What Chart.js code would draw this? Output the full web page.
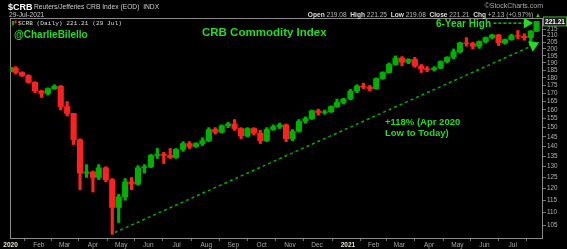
<!DOCTYPE html>
<html>
<head>
<meta charset="utf-8">
<script src="https://cdn.jsdelivr.net/npm/chart.js@4.4.1/dist/chart.umd.min.js"></script>
<style>
  html, body { margin: 0; padding: 0; background: #000; }
  #wrap { width: 567px; height: 249px; }
</style>
</head>
<body>
<div id="wrap"><canvas id="crbChart" width="567" height="249"></canvas></div>
<script>
// weekly candles, week ending dates (last one is the Thu 29 Jul 2021 close)
const weekEnd = [
  "2020-01-03", "2020-01-10", "2020-01-17", "2020-01-24", "2020-01-31",
  "2020-02-07", "2020-02-14", "2020-02-21", "2020-02-28",
  "2020-03-06", "2020-03-13", "2020-03-20", "2020-03-27",
  "2020-04-03", "2020-04-09", "2020-04-17", "2020-04-24",
  "2020-05-01", "2020-05-08", "2020-05-15", "2020-05-22", "2020-05-29",
  "2020-06-05", "2020-06-12", "2020-06-19", "2020-06-26",
  "2020-07-02", "2020-07-10", "2020-07-17", "2020-07-24", "2020-07-31",
  "2020-08-07", "2020-08-14", "2020-08-21", "2020-08-28",
  "2020-09-04", "2020-09-11", "2020-09-18", "2020-09-25",
  "2020-10-02", "2020-10-09", "2020-10-16", "2020-10-23", "2020-10-30",
  "2020-11-06", "2020-11-13", "2020-11-20", "2020-11-27",
  "2020-12-04", "2020-12-11", "2020-12-18", "2020-12-24", "2020-12-31",
  "2021-01-08", "2021-01-15", "2021-01-22", "2021-01-29",
  "2021-02-05", "2021-02-12", "2021-02-19", "2021-02-26",
  "2021-03-05", "2021-03-12", "2021-03-19", "2021-03-26",
  "2021-04-01", "2021-04-09", "2021-04-16", "2021-04-23", "2021-04-30",
  "2021-05-07", "2021-05-14", "2021-05-21", "2021-05-28",
  "2021-06-04", "2021-06-11", "2021-06-18", "2021-06-25",
  "2021-07-02", "2021-07-09", "2021-07-16", "2021-07-23", "2021-07-29",
];
const firstOpen = 184.5;
const weekHigh = [
  187, 187.5, 184, 182, 177.5, 172, 173.5, 175.5, 175,
  165, 158, 144, 131, 128, 131, 130, 124.5,
  117.5, 124.5, 125, 130.5, 131, 136, 139, 137, 139,
  139, 142.5, 142.5, 142, 144.5, 150, 150, 151.5, 153,
  154.5, 150, 150, 150, 148.5, 150, 151.5, 152.5, 152,
  149, 154.5, 156, 160, 160.5, 160, 162.5, 166.5, 167,
  172.5, 175.5, 176.5, 175, 180, 184, 190, 195,
  194.5, 193, 194, 189, 187.5, 187.5, 191.5, 194.5, 200,
  205, 208.5, 205, 206, 209, 211, 211, 207.5,
  211, 214, 211.5, 214, 221.25,
];
const weekLow = [
  184, 182.5, 180.8, 176.5, 170.5, 167.5, 169, 172.5, 160,
  156.5, 141, 119.5, 125, 118.5, 124, 123, 101.5,
  106, 115, 119.5, 121.5, 127, 129.5, 134, 131.5, 134,
  134, 137.5, 139, 139.5, 140.5, 142.5, 146.5, 147, 150,
  148.5, 144, 145, 146, 141.5, 142.5, 148.5, 149.5, 142.5,
  143, 147.5, 152.5, 154.5, 157, 157.5, 158.5, 161.5, 163.5,
  166, 170.5, 173, 171.5, 172.5, 179, 183, 188.5,
  188, 189.5, 187, 183.5, 184, 184.5, 186, 190, 193,
  197, 202, 200, 200.5, 204.5, 207.5, 202.5, 203.5,
  206.5, 207.5, 206.5, 202.5, 213,
];
const weekClose = [
  186.5, 183.5, 181.5, 177, 171.5, 170, 173, 174.5, 162,
  158, 143.5, 127, 127.5, 125, 129.5, 124, 112,
  116.5, 123, 122, 129.5, 130, 135.5, 136, 135.5, 134.5,
  138.5, 141.5, 140, 141.5, 143, 149, 147.5, 151, 152,
  149.5, 145.5, 149.5, 147, 143, 149, 150.5, 151.5, 144,
  148, 153.5, 155, 159.5, 158.5, 159, 162, 164.5, 166.5,
  171.5, 174.5, 174, 173, 179.5, 183.5, 189, 193.5,
  190.5, 192.5, 188, 186, 185.5, 186.5, 191, 194, 198,
  204.5, 204, 202, 205.5, 208.5, 210.5, 204.5, 207,
  210, 209.5, 208.5, 213.5, 221.21,
];
const lastClose = 221.21;

const priceTicks = [105, 110, 115, 120, 125, 130, 135, 140, 145, 150, 155, 160,
  165, 170, 175, 180, 185, 190, 195, 200, 205, 210, 215];
const monthTickDates = [
  "2020-01-02", "2020-02-03", "2020-03-02", "2020-04-01", "2020-05-01", "2020-06-01",
  "2020-07-01", "2020-08-03", "2020-09-01", "2020-10-01", "2020-11-02", "2020-12-01",
  "2021-01-04", "2021-02-01", "2021-03-01", "2021-04-01", "2021-05-03", "2021-06-01",
  "2021-07-01",
];
const monthTickLabels = ["2020", "Feb", "Mar", "Apr", "May", "Jun", "Jul", "Aug", "Sep",
  "Oct", "Nov", "Dec", "2021", "Feb", "Mar", "Apr", "May", "Jun", "Jul"];

// trend line from the April 2020 low, and the "6-Year High" arrow
const trendDates = ["2020-04-24", "2021-07-23"];
const trendValues = [102.2, 202.8];
const highArrowDates = ["2021-06-10", "2021-07-16"];
const highArrowValues = [219.9, 219.9];

// x axis counts weekdays since 1 Jan 2020
const DAY = 86400000;
const startUtc = Date.UTC(2020, 0, 1);
const toUtc = (iso) => {
  const [y, m, d] = iso.split("-").map(Number);
  return Date.UTC(y, m - 1, d);
};
const weekdayIndex = (iso) => {
  const t = toUtc(iso);
  let n = 0;
  for (let u = startUtc; u < t; u += DAY) {
    const wd = new Date(u).getUTCDay();
    if (wd !== 0 && wd !== 6) n++;
  }
  return n;
};

const firstDayIdx = weekdayIndex("2020-01-02");
const weekX = weekEnd.map((d) => {
  const end = weekdayIndex(d);
  const dow = new Date(toUtc(d)).getUTCDay();
  const start = Math.max(end - (dow - 1), firstDayIdx);
  return (start + end) / 2;
});
const weekOpen = weekClose.map((c, i) => (i === 0 ? firstOpen : weekClose[i - 1]));

const upColor = "#00b000";
const downColor = "#ff2020";
const candleColors = weekClose.map((c, i) => (c >= weekOpen[i] ? upColor : downColor));

const noteGreen = "#22dd22";
const font = (size, bold) => `${bold ? "bold " : ""}${size}px "Liberation Sans", Arial, sans-serif`;

const drawText = (c, text, x, y, f, color, align = "left") => {
  c.font = f;
  c.fillStyle = color;
  c.textAlign = align;
  c.textBaseline = "alphabetic";
  c.fillText(text, x, y);
};

const framePlugin = {
  id: "frame",
  beforeDatasetsDraw(chart) {
    const c = chart.ctx;
    const { left, top, right, bottom } = chart.chartArea;
    c.save();
    c.strokeStyle = "#8a8a8a";
    c.lineWidth = 1;
    c.strokeRect(left + 0.5, top + 0.5, right - left - 1, bottom - top - 1);
    c.restore();
  },
  afterDraw(chart) {
    const c = chart.ctx;
    const yScale = chart.scales.y;
    c.save();

    // header
    drawText(c, "$CRB", 8, 9.5, font(9, true), "#ffffff");
    drawText(c, "Reuters/Jefferies CRB Index (EOD)  INDX", 34, 8.5, font(6.7), "#cccccc");
    drawText(c, "29-Jul-2021", 9, 16.5, font(6.7), "#cccccc");
    drawText(c, "\u00a9StockCharts.com", 543, 8.3, font(7), "#aaaaaa", "right");

    const parts = [
      ["Open ", true], ["219.08  ", false], ["High ", true], ["221.25  ", false],
      ["Low ", true], ["219.08  ", false], ["Close ", true], ["221.21  ", false],
      ["Chg ", true], ["+2.13 (+0.97%) ", false],
    ];
    const hdrSize = 6.6;
    let total = 0;
    parts.forEach(([t, b]) => { c.font = font(hdrSize, b); total += c.measureText(t).width; });
    c.font = font(6);
    total += c.measureText("\u25b2").width;
    let px = 541 - total;
    parts.forEach(([t, b]) => {
      drawText(c, t, px, 16.5, font(hdrSize, b), b ? "#dddddd" : "#bbbbbb");
      c.font = font(hdrSize, b);
      px += c.measureText(t).width;
    });
    drawText(c, "\u25b2", px, 16.5, font(6), noteGreen);

    // legend line inside the frame
    c.fillStyle = upColor;
    c.fillRect(12, 21, 2, 4);
    c.fillStyle = downColor;
    c.fillRect(14.5, 20.5, 2, 3);
    drawText(c, "$CRB (Daily) 221.21 (29 Jul)", 18, 25, '6.2px "Liberation Mono", monospace', "#dddddd");

    // notes
    drawText(c, "@CharlieBilello", 14, 38, font(10, true), noteGreen);
    drawText(c, "CRB Commodity Index", 202, 36, font(11.5, true), noteGreen);
    drawText(c, "6-Year High", 491, 26.5, font(10, true), noteGreen, "right");
    drawText(c, "+118% (Apr 2020", 385, 124.5, font(9.5, true), noteGreen);
    drawText(c, "Low to Today)", 385, 136, font(9.5, true), noteGreen);

    // last price box on the right axis
    const ly = yScale.getPixelForValue(lastClose);
    c.fillStyle = "#1c1c1c";
    c.fillRect(543.5, ly - 4.5, 23, 9);
    c.strokeStyle = "#44aa44";
    c.lineWidth = 1;
    c.strokeRect(543.5, ly - 4.5, 23, 9);
    drawText(c, lastClose.toFixed(2), 555, ly + 2.5, font(6.5, true), "#ffffff", "center");

    c.restore();
  },
};

const ctx = document.getElementById("crbChart");

new Chart(ctx.getContext("2d"), {
  type: "bar",
  data: {
    datasets: [
      {
        label: "trend",
        type: "line",
        data: trendDates.map((d, i) => ({ x: weekdayIndex(d), y: trendValues[i] })),
        borderColor: "#00b000",
        borderWidth: 1.5,
        borderDash: [3, 3],
        pointRadius: [0, 5],
        pointStyle: "triangle",
        pointRotation: 66,
        pointBackgroundColor: noteGreen,
        pointBorderColor: noteGreen,
        order: 0,
      },
      {
        label: "high",
        type: "line",
        data: highArrowDates.map((d, i) => ({ x: weekdayIndex(d), y: highArrowValues[i] })),
        borderColor: noteGreen,
        borderWidth: 1.2,
        borderDash: [3, 2],
        pointRadius: [0, 5],
        pointStyle: "triangle",
        pointRotation: 90,
        pointBackgroundColor: noteGreen,
        pointBorderColor: noteGreen,
        order: 0,
      },
      {
        label: "body",
        data: weekX.map((x, i) => ({ x, y: [weekOpen[i], weekClose[i]] })),
        backgroundColor: candleColors,
        barThickness: 5.5,
        grouped: false,
        order: 1,
      },
      {
        label: "wick",
        data: weekX.map((x, i) => ({ x, y: [weekLow[i], weekHigh[i]] })),
        backgroundColor: candleColors,
        barThickness: 2.5,
        grouped: false,
        order: 2,
      },
    ],
  },
  options: {
    responsive: false,
    animation: false,
    layout: { padding: { left: 10, top: 18, right: 0, bottom: 0 } },
    plugins: { legend: { display: false }, tooltip: { enabled: false } },
    scales: {
      x: {
        type: "linear",
        min: 0.6,
        max: 414.5,
        offset: false,
        afterBuildTicks: (scale) => {
          scale.ticks = monthTickDates.map((d) => ({ value: weekdayIndex(d) }));
        },
        afterFit: (scale) => { scale.height = 10; },
        grid: { drawOnChartArea: false, color: "#777", tickLength: 2 },
        border: { display: false },
        ticks: {
          autoSkip: false,
          maxRotation: 0,
          padding: 0,
          callback: (v, i) => monthTickLabels[i],
          color: (c) => (monthTickLabels[c.index] && monthTickLabels[c.index].length === 4 ? "#e8e4c8" : "#a8a8a8"),
          font: (c) => ({
            family: '"Liberation Sans", Arial, sans-serif',
            size: 6.5,
            weight: monthTickLabels[c.index] && monthTickLabels[c.index].length === 4 ? "bold" : "normal",
          }),
        },
      },
      y: {
        type: "logarithmic",
        position: "right",
        min: 99.8,
        max: 224,
        afterBuildTicks: (scale) => {
          scale.ticks = priceTicks.map((v) => ({ value: v }));
        },
        afterFit: (scale) => { scale.width = 24; },
        grid: { drawOnChartArea: false, color: "#777", tickLength: 3 },
        border: { display: false },
        ticks: {
          autoSkip: false,
          padding: 1,
          color: "#b4b4b4",
          font: { family: '"Liberation Sans", Arial, sans-serif', size: 6.3 },
          callback: (v) => String(v),
        },
      },
    },
  },
  plugins: [framePlugin],
});
</script>
</body>
</html>
